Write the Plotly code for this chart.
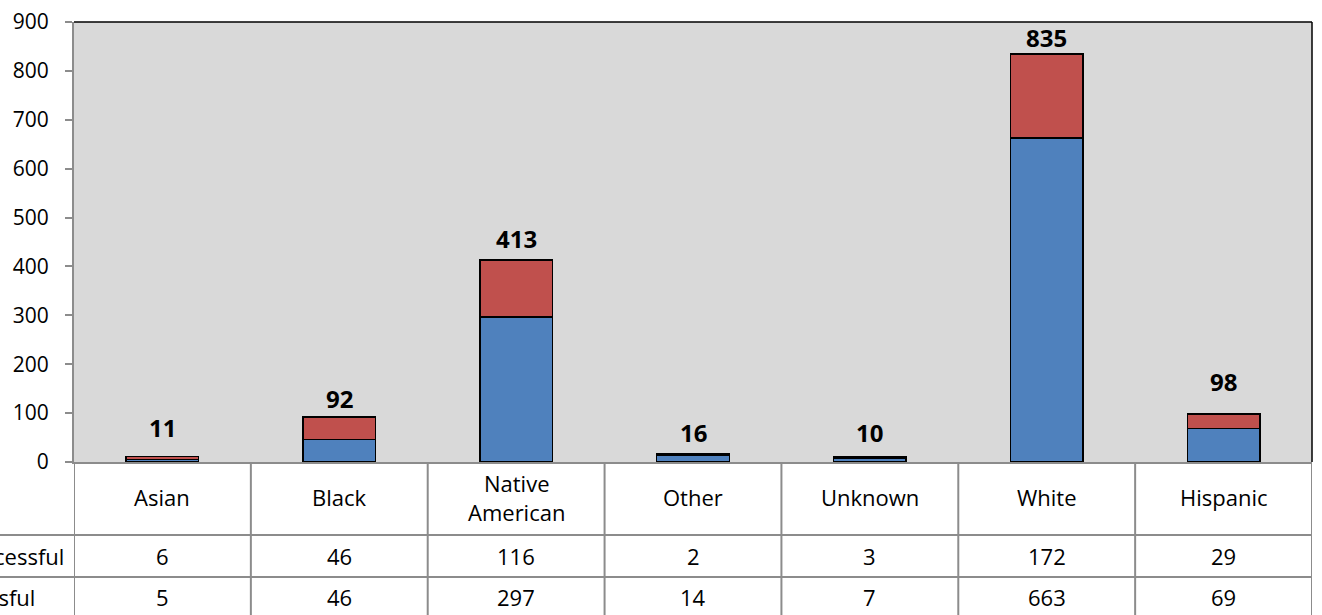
import plotly.graph_objects as go

categories = ["Asian", "Black", "Native American", "Other", "Unknown", "White", "Hispanic"]
category_labels = ["Asian", "Black", "Native<br>American", "Other", "Unknown", "White", "Hispanic"]
unsuccessful = [6, 46, 116, 2, 3, 172, 29]
successful = [5, 46, 297, 14, 7, 663, 69]
totals = [u + s for u, s in zip(unsuccessful, successful)]
y_ticks = [0, 100, 200, 300, 400, 500, 600, 700, 800, 900]

# style / layout tweaks
total_label_shift = [29, 19, 22, 22, 25, 16, 33]
FONT = "Open Sans"
FS_TICK = 21
FS_TABLE = 22
FS_TOTAL = 24
BLUE = "#4F81BD"
RED = "#C0504D"
GRID = "#8C8C8C"

W, H = 1322, 615
L, R, T, B = 74, 10, 22, 153
plot_h = H - T - B

fig = go.Figure()
fig.add_trace(go.Bar(x=categories, y=successful, name="Successful", marker=dict(color=BLUE, line=dict(color="black", width=1.5)), width=0.41))
fig.add_trace(go.Bar(x=categories, y=unsuccessful, name="Unsuccessful", marker=dict(color=RED, line=dict(color="black", width=1.5)), width=0.41))

ann = []
for i, (c, t) in enumerate(zip(categories, totals)):
    ann.append(dict(x=c, y=t, text=f"<b>{t}</b>", showarrow=False, yanchor="middle", yshift=total_label_shift[i],
                    font=dict(family=FONT, size=FS_TOTAL, color="black")))

def py(px_from_plot_bottom):
    return -px_from_plot_bottom / plot_h

row1 = 73   # category row bottom (px below axis)
row2 = 115  # unsuccessful row bottom
row3 = 157  # successful row bottom

tfont = dict(family=FONT, size=FS_TABLE, color="black")
for i, lab in enumerate(category_labels):
    ann.append(dict(x=i, xref="x", y=py(row1 / 2 - 1), yref="paper", text=lab, showarrow=False, yanchor="middle",
                    font=tfont))
    ann.append(dict(x=i, xref="x", y=py((row1 + row2) / 2), yref="paper", text=str(unsuccessful[i]), showarrow=False,
                    yanchor="middle", font=tfont))
    ann.append(dict(x=i, xref="x", y=py((row2 + row3) / 2 - 1), yref="paper", text=str(successful[i]), showarrow=False,
                    yanchor="middle", font=tfont))

for txt, yc, xs in [("Unsuccessful", (row1 + row2) / 2, -8), ("Successful", (row2 + row3) / 2 - 1, -37)]:
    ann.append(dict(x=0, xref="paper", xshift=xs, y=py(yc), yref="paper", text=txt, showarrow=False, xanchor="right",
                    yanchor="middle", font=tfont))

shapes = []
# table horizontal lines
for rb in [row1, row2]:
    shapes.append(dict(type="line", xref="paper", yref="paper", x0=-L / (W - L - R), x1=1, y0=py(rb), y1=py(rb),
                       line=dict(color=GRID, width=2)))
# table vertical lines
for k in range(8):
    shapes.append(dict(type="line", xref="x", yref="paper", x0=k - 0.5, x1=k - 0.5, y0=0, y1=py(row3 + 10),
                       line=dict(color=GRID, width=2)))
# plot border top and right
shapes.append(dict(type="line", xref="paper", yref="paper", x0=0, x1=1, y0=1, y1=1, line=dict(color="black", width=1.5)))
shapes.append(dict(type="line", xref="paper", yref="paper", x0=1, x1=1, y0=0, y1=1, line=dict(color="black", width=1.5)))

fig.update_layout(
    width=W, height=H, barmode="stack", showlegend=False,
    margin=dict(l=L, r=R, t=T, b=B, pad=0, autoexpand=False),
    plot_bgcolor="#D9D9D9", paper_bgcolor="white",
    annotations=ann, shapes=shapes,
    font=dict(family=FONT, size=FS_TABLE, color="black"),
)
fig.update_xaxes(range=[-0.5, 6.5], showticklabels=False, showgrid=False, showline=True, linecolor=GRID, linewidth=2,
                 ticks="", zeroline=False, automargin=False)
fig.update_yaxes(range=[0, 900], tickvals=y_ticks, showgrid=False, showline=True, linecolor=GRID, linewidth=2,
                 ticks="outside", ticklen=7, tickcolor=GRID, tickwidth=2, zeroline=False, ticklabelstandoff=12,
                 automargin=False, tickfont=dict(family=FONT, size=FS_TICK, color="black"))

fig.write_html("out.html", config={"displayModeBar": False},
               post_script="document.body.style.margin='0';document.body.style.overflow='hidden';")
